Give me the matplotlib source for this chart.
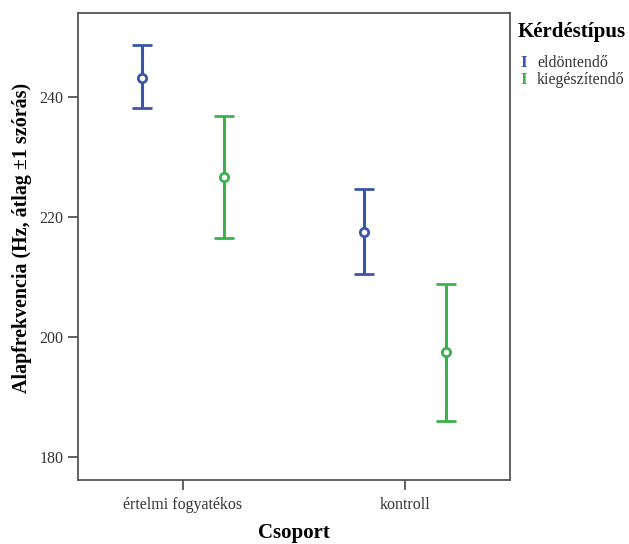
import matplotlib.pyplot as plt
import numpy as np

plt.rcParams["font.family"] = ["Liberation Serif", "DejaVu Serif"]

groups = ["értelmi fogyatékos", "kontroll"]
series = ["eldöntendő", "kiegészítendő"]
colors = ["#3b55a8", "#3cb24c"]
means = [[243.2, 217.5], [226.7, 197.5]]
lower = [[238.2, 210.5], [216.5, 186.0]]
upper = [[248.7, 224.6], [236.9, 208.8]]
y_ticks = [180, 200, 220, 240]

OFFSET = 0.185
FRAME = "#555555"

fig = plt.figure(figsize=(6.29, 5.44), dpi=100)
ax = fig.add_axes([0.124, 0.118, 0.687, 0.858])

x = np.arange(len(groups))
for i, name in enumerate(series):
    m = np.array(means[i])
    err = [m - np.array(lower[i]), np.array(upper[i]) - m]
    xs = x + (i - 0.5) * 2 * OFFSET
    ax.errorbar(
        xs,
        m,
        yerr=err,
        fmt="o",
        color=colors[i],
        markerfacecolor="white",
        markeredgecolor=colors[i],
        markersize=6,
        markeredgewidth=2,
        elinewidth=2.2,
        capsize=7.5,
        capthick=2.2,
    )

ax.set_xlim(-0.473, 1.473)
ax.set_ylim(176.2, 254.0)
ax.set_xticks(x)
ax.set_xticklabels(groups)
ax.set_yticks(y_ticks)

for spine in ax.spines.values():
    spine.set_color(FRAME)
    spine.set_linewidth(1.3)
ax.tick_params(
    axis="both",
    direction="out",
    length=7.5,
    width=1.3,
    color=FRAME,
    labelsize=11.5,
    labelcolor="#333333",
    pad=3,
)
ax.tick_params(axis="x", pad=5)

ax.set_xlabel("Csoport", fontsize=15, fontweight="bold", va="center")
ax.xaxis.set_label_coords(0.5, -0.113)
ax.set_ylabel(
    "Alapfrekvencia (Hz, átlag ±1 szórás)",
    fontsize=14.4,
    fontweight="bold",
    va="center",
)
ax.yaxis.set_label_coords(-0.13, 0.518)

# legend drawn by hand to get the small "I" glyphs
fig.text(518 / 629, 1 - 32 / 544, "Kérdéstípus", fontsize=15,
         fontweight="bold", va="center", ha="left")
for i, name in enumerate(series):
    y = 1 - (63 + 17 * i) / 544
    fig.text(520 / 629, y, "I", fontsize=12.5, fontweight="bold",
             color=colors[i], va="center", ha="left")
    fig.text(537 / 629, y, name, fontsize=11.5, color="#333333",
             va="center", ha="left")

fig.savefig("out.png", dpi=100)
